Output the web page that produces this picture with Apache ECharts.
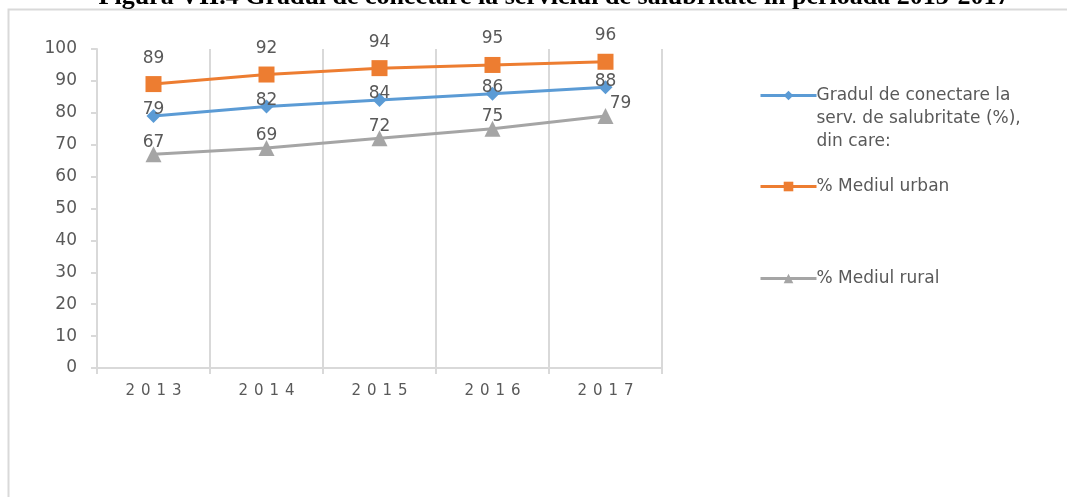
<!DOCTYPE html>
<html>
<head>
<meta charset="utf-8">
<script src="https://cdn.jsdelivr.net/npm/echarts@6/dist/echarts.min.js"></script>
<style>
  html, body { margin: 0; padding: 0; background: #ffffff; }
  #chart { width: 1067px; height: 497px; }
</style>
</head>
<body>
<div id="chart"></div>
<script>
// Years on the category axis
const years = ['2013', '2014', '2015', '2016', '2017'];

// Connection rate to sanitation services (%)
const totalRate = [79, 82, 84, 86, 88];
const urbanRate = [89, 92, 94, 95, 96];
const ruralRate = [67, 69, 72, 75, 79];

const seriesNames = [
  'Gradul de conectare la\nserv. de salubritate (%),\ndin care:',
  '% Mediul urban',
  '% Mediul rural'
];

const titleText = 'Figura VII.4 Gradul de conectare la serviciul de salubritate în perioada 2013-2017';

const FONT = 'DejaVu Sans';
const GREY_TEXT = '#595959';
const GRID_LINE = '#d9d9d9';

const chart = echarts.init(document.getElementById('chart'), null, { renderer: 'canvas' });

function legendFor(idx, top, padFirst) {
  return {
    orient: 'vertical',
    left: 754,
    top: top,
    data: [seriesNames[idx]],
    itemWidth: 56,
    itemHeight: 12,
    selectedMode: false,
    lineStyle: { width: 3 },
    formatter: padFirst ? (n) => '\n\n' + n : (n) => n,
    textStyle: { fontFamily: FONT, fontSize: 17, color: GREY_TEXT, lineHeight: 23, padding: [0, 0, 0, -5] }
  };
}

const labelBase = { show: true, position: 'inside', fontFamily: FONT, fontSize: 17, color: GREY_TEXT };

chart.setOption({
  animation: false,
  backgroundColor: '#ffffff',
  title: {
    text: titleText,
    left: 549,
    textAlign: 'center',
    top: -21,
    textStyle: { fontFamily: 'Liberation Serif', fontWeight: 'bold', fontSize: 26, color: '#000000' }
  },
  graphic: [{
    type: 'rect',
    silent: true,
    shape: { x: 8.5, y: 9.5, width: 1100, height: 520 },
    style: { fill: 'none', stroke: '#d9d9d9', lineWidth: 2 }
  }],
  legend: [
    legendFor(0, 33, true),
    legendFor(1, 170, false),
    legendFor(2, 262, false)
  ],
  grid: { left: 97, right: 405, top: 49, bottom: 129, containLabel: false },
  xAxis: {
    type: 'category',
    data: years,
    boundaryGap: true,
    axisLine: { lineStyle: { color: GRID_LINE, width: 2 } },
    axisTick: { show: true, length: 6, lineStyle: { color: GRID_LINE, width: 2 } },
    splitLine: { show: true, lineStyle: { color: GRID_LINE, width: 2 } },
    axisLabel: {
      margin: 16,
      fontFamily: FONT,
      fontSize: 15,
      color: GREY_TEXT,
      formatter: (v) => v.split('').join('\u2009\u2009')
    }
  },
  yAxis: {
    type: 'value',
    min: 0,
    max: 100,
    interval: 10,
    axisLine: { show: true, lineStyle: { color: GRID_LINE, width: 2 } },
    axisTick: { show: true, length: 6, lineStyle: { color: GRID_LINE, width: 2 } },
    splitLine: { show: false },
    axisLabel: { margin: 20, fontFamily: FONT, fontSize: 17, color: GREY_TEXT }
  },
  series: [
    {
      name: seriesNames[0],
      type: 'line',
      data: totalRate,
      symbol: 'diamond',
      symbolSize: 14,
      lineStyle: { color: '#5B9BD5', width: 3 },
      itemStyle: { color: '#5B9BD5' },
      label: Object.assign({}, labelBase, { offset: [0, -6] }),
      z: 3
    },
    {
      name: seriesNames[1],
      type: 'line',
      data: urbanRate,
      symbol: 'rect',
      symbolSize: 16,
      lineStyle: { color: '#ED7D31', width: 3 },
      itemStyle: { color: '#ED7D31' },
      label: Object.assign({}, labelBase, { offset: [0, -26] }),
      z: 3
    },
    {
      name: seriesNames[2],
      type: 'line',
      data: ruralRate.map((v, i) => i === ruralRate.length - 1
        ? { value: v, label: { offset: [15, -12] } }
        : v),
      symbol: 'triangle',
      symbolSize: 16,
      lineStyle: { color: '#A5A5A5', width: 3 },
      itemStyle: { color: '#A5A5A5' },
      label: Object.assign({}, labelBase, { offset: [0, -12] }),
      z: 3
    }
  ]
});
</script>
</body>
</html>
